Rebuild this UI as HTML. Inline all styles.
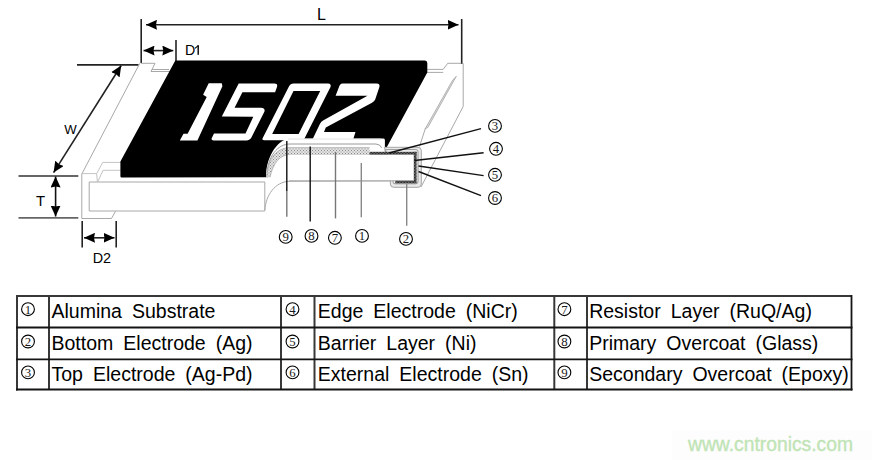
<!DOCTYPE html>
<html><head><meta charset="utf-8"><title>Chip resistor structure</title>
<style>
html,body{margin:0;padding:0;background:#fff;width:872px;height:460px;overflow:hidden}
svg{position:absolute;left:0;top:0;display:block}
text{font-family:"Liberation Sans",sans-serif}
.cn text{font-family:"Liberation Serif",serif;font-size:12.8px}
</style></head><body>
<svg width="872" height="460" viewBox="0 0 872 460">
<defs>
<marker id="ah" viewBox="0 0 11 10" refX="11" refY="5" markerWidth="11" markerHeight="10" markerUnits="userSpaceOnUse" orient="auto-start-reverse">
<path d="M0,0 L11,5 L0,10 L1,5 Z" fill="#000"/>
</marker>
<pattern id="hat" width="3" height="3" patternUnits="userSpaceOnUse">
<rect width="3" height="3" fill="#e4e4e4"/>
<rect width="1" height="1" fill="#8a8a8a"/>
<rect x="1.5" y="1.5" width="1" height="1" fill="#8a8a8a"/>
</pattern>
<pattern id="dhat" width="3" height="3" patternUnits="userSpaceOnUse">
<rect width="3" height="3" fill="#6a6a6a"/>
<rect width="1.5" height="1.5" fill="#2a2a2a"/>
<rect x="1.5" y="1.5" width="1.5" height="1.5" fill="#2a2a2a"/>
</pattern>
</defs>

<!-- ============ DIAGRAM ============ -->
<!-- L dimension -->
<g stroke="#222" stroke-width="1.6" fill="none">
<line x1="141.2" y1="19" x2="141.2" y2="63"/>
<line x1="461.7" y1="19" x2="461.7" y2="64"/>
<line x1="176" y1="40" x2="176" y2="61"/>
<line x1="146" y1="24.8" x2="458.5" y2="24.8" marker-start="url(#ah)" marker-end="url(#ah)"/>
<line x1="143.5" y1="50.6" x2="173.3" y2="50.6" marker-start="url(#ah)" marker-end="url(#ah)"/>
</g>
<text x="317" y="20" font-size="16" fill="#000">L</text>
<text x="185" y="55" font-size="14.2" fill="#000">D</text>
<rect x="197.5" y="45.2" width="1.4" height="9.6" fill="#000"/><line x1="198.2" y1="45.6" x2="195" y2="48.3" stroke="#000" stroke-width="1.1"/>

<!-- W dimension -->
<g stroke="#222" stroke-width="1.6" fill="none">
<line x1="77" y1="64.9" x2="138.6" y2="64.9"/>
<line x1="121.2" y1="65.5" x2="53.6" y2="172.6" marker-start="url(#ah)" marker-end="url(#ah)"/>
</g>
<text x="64.3" y="134" font-size="13.2" fill="#000">W</text>

<!-- T dimension -->
<g stroke="#666" stroke-width="1.8" fill="none">
<line x1="18.5" y1="176" x2="78.3" y2="176"/>
<line x1="18.5" y1="217.9" x2="78.3" y2="217.9"/>
</g>
<line x1="55.6" y1="176.5" x2="55.6" y2="216.5" stroke="#111" stroke-width="1.6" marker-start="url(#ah)" marker-end="url(#ah)"/>
<text x="36" y="206" font-size="14.8" fill="#000">T</text>

<!-- D2 dimension -->
<g stroke="#222" stroke-width="1.6" fill="none">
<line x1="82.2" y1="221" x2="82.2" y2="247.5"/>
<line x1="116.2" y1="221" x2="116.2" y2="247.5"/>
<line x1="84" y1="237.8" x2="114.5" y2="237.8" marker-start="url(#ah)" marker-end="url(#ah)"/>
</g>
<text x="92.7" y="263.3" font-size="14.4" fill="#000">D2</text>

<!-- chip outline thin gray lines -->
<g stroke="#a8a8a8" stroke-width="1" fill="none">
<!-- left end -->
<polyline points="81.8,218.5 81.8,173.6"/>
<line x1="82" y1="173.6" x2="139.8" y2="63.3"/>
<g stroke="#c4c4c4">
<polyline points="81.8,173.6 96.7,173.6 102.7,162.4 121,162.4"/>
<line x1="97.8" y1="181.7" x2="103" y2="170.3"/>
<line x1="103" y1="170.3" x2="121" y2="170.3"/>
<line x1="96.6" y1="173.6" x2="97.4" y2="181.5"/>
</g>
<polyline points="141,63.3 155,63.3 151,71.5 170,71.5"/>
<line x1="152" y1="69.5" x2="169" y2="69.5"/>
<polyline points="89.2,211 89.2,182 264.8,182"/>
<line x1="89.2" y1="211" x2="264.8" y2="211"/>
<polyline points="81.8,218.5 111.5,218.5 115.5,211.3"/>
<line x1="264.8" y1="182" x2="264.8" y2="211"/>
<!-- cutaway curve front -->
<path d="M264.8,210 C266,195 275,182 289,181.3"/>
<line x1="289" y1="181.3" x2="413.7" y2="180.8"/>
<!-- right end -->
<polyline points="427,69.4 443.2,69.4 447.7,63.3 461.4,63.3"/>
<line x1="427" y1="72.4" x2="443.2" y2="72.4"/>
<polyline points="463.2,63.3 463.2,106.5 421,187"/>
<line x1="425.5" y1="128" x2="419.5" y2="146.5"/>
</g>
<!-- hatched diagonal band on right end -->
<polygon points="456.3,76.3 452.6,80.3 425.2,128.8 427.8,127.5" fill="#dcdcdc" stroke="#a4a4a4" stroke-width="0.8"/>

<!-- black overcoat face -->
<path d="M175.3,60.5 L425,60.5 Q427.3,60.5 427.3,63 L427.3,72.4 L386.6,147.6 L384.9,147.6 L384.9,140 Q384.7,138.6 383.3,138.6 L290,138.6 C280,138.6 266,154 266,177.3 L121.6,177.4 Q120.4,177.4 120.4,176.2 L120.4,161.5 Z" fill="#000"/>

<!-- 1502 digits -->
<g fill="#fff">
<!-- 1 -->
<polygon points="208.7,83.3 221.8,83.3 222.4,86.3 197.4,140.5 179.8,140.5 183.5,133.8 187.6,133.8 206.7,96.9 203.1,94.8"/>
<!-- 5 -->
<path d="M238.7,83.5 L274.5,83.5 Q278.2,83.5 276.9,87.2 L275.1,92.2 L242.4,92.2 L234.6,107.8 L261,107.8 Q265.2,107.9 264.5,111.5 L251.9,136.5 Q250.3,140.3 247,140.4 L213.5,140.4 Q210.8,140.4 211.8,138 L214,133.5 L245.5,133.5 L253.3,116.7 L221.8,116.5 Z"/>
<!-- 0 -->
<path fill-rule="evenodd" d="M293.5,83.5 L328,83.5 Q331.5,83.5 330.5,87 L304.6,138.3 Q303.8,140.2 301.5,140.2 L264.2,140.2 Q261.8,140.2 262.6,138.3 L288.8,86.8 Q290.5,83.5 293.5,83.5 Z M293.5,91 L320.2,91 L298.6,134 L272.2,134 Z"/>
<!-- 2 -->
<path d="M342.5,83.5 L376.5,83.5 Q380.5,83.5 379.3,87.3 L375.2,99.5 Q374.3,101.6 372,102.8 L325.8,127.4 L324,132 L355.5,132 L353.3,139 L312.7,139 L320,123.8 Q321,121.6 323.5,120.3 L367.5,95.8 L335.6,95.8 L338.8,87.5 Q340,83.5 342.5,83.5 Z"/>
</g>

<!-- cross section layers -->
<line x1="288" y1="139" x2="381" y2="139" stroke="#dadada" stroke-width="0.8"/>
<g fill="none" stroke="#9a9a9a" stroke-width="1">
<path d="M266.8,177.3 C267,156 278,144 290,144 L376,144 Q380.6,144.4 381.6,147.8"/>
</g>
<!-- hatched resistor layer along top + curve -->
<path d="M267,177.3 C267.5,158 277,147.7 290,147.7 L369.5,147.7 L369.5,154.5 L290,154.5 C280,154.5 273,163 270,177.3 Z" fill="url(#hat)"/>
<g fill="none" stroke="#a8a8a8" stroke-width="0.8">
<path d="M267,177.3 C267.5,158 277,147.7 290,147.7 L369.5,147.7"/>
<path d="M270,177.3 C273,163 280,154.5 290,154.5 L413.5,154.5"/>
</g>
<!-- external electrode (outer) -->
<path d="M384.5,147.3 L418,147.3 Q421.3,147.3 421.3,150.5 L421.3,184 Q421.3,187.3 418,187.3 L393.7,187.3 Q390.4,187.3 390.4,184 L390.4,180.6 Z" fill="#e9e9e9" stroke="#a4a4a4" stroke-width="1"/>
<!-- barrier -->
<path d="M385.5,149.6 L415.8,149.6 Q418,149.6 418,151.8 L418,181.6 Q418,183.8 415.8,183.8 L395,183.8 Q393,183.8 393,181.8 L393,180.6 Z" fill="#f4f4f4" stroke="#8c8c8c" stroke-width="0.9"/>
<!-- substrate -->
<rect x="289.5" y="154.6" width="124" height="25.8" fill="#fff"/>
<line x1="289" y1="180.8" x2="413.7" y2="180.8" stroke="#a8a8a8" stroke-width="1"/>
<!-- electrodes -->
<rect x="369.5" y="151.8" width="47" height="2.8" fill="url(#dhat)"/>
<rect x="413.8" y="151.8" width="2.8" height="29.2" fill="url(#dhat)"/>
<rect x="395.3" y="180.8" width="21.3" height="2.5" fill="url(#dhat)"/>

<!-- pointer lines -->
<g stroke="#111" stroke-width="1.4">
<line x1="286.8" y1="141" x2="286.8" y2="191"/>
<line x1="310.2" y1="146.6" x2="310.2" y2="221.5"/>
<line x1="389" y1="153" x2="481" y2="128.6"/>
<line x1="414.4" y1="160.5" x2="483.6" y2="152.7"/>
<line x1="418.5" y1="166" x2="483.6" y2="175.6"/>
<line x1="418.5" y1="171.5" x2="481" y2="195.7"/>
</g>
<g stroke="#777" stroke-width="1.4">
<line x1="286.8" y1="191" x2="286.8" y2="216.7"/>
<line x1="335.5" y1="152" x2="335.5" y2="218.4"/>
</g>
<g stroke="#888" stroke-width="1.4">
<line x1="361.3" y1="163" x2="361.3" y2="217.2"/>
<line x1="406.7" y1="184" x2="406.7" y2="225.7"/>
</g>

<!-- diagram circled numbers -->
<g fill="none" stroke="#000" stroke-width="1.1">
<circle cx="495" cy="125.9" r="6.4"/>
<circle cx="496" cy="148.8" r="6.4"/>
<circle cx="495" cy="174.8" r="6.4"/>
<circle cx="495" cy="198" r="6.4"/>
<circle cx="285.7" cy="236.9" r="6.4"/>
<circle cx="311.5" cy="235.9" r="6.4"/>
<circle cx="334.9" cy="237.8" r="6.4"/>
<circle cx="362" cy="235.9" r="6.4"/>
<circle cx="406" cy="238.9" r="6.4"/>
</g>
<g class="cn" text-anchor="middle" fill="#1a1a1a">
<text x="495" y="130.25">3</text>
<text x="496" y="153.15">4</text>
<text x="495" y="179.15">5</text>
<text x="495" y="202.35">6</text>
<text x="285.7" y="241.25">9</text>
<text x="311.5" y="240.25">8</text>
<text x="334.9" y="242.15">7</text>
<text x="362" y="240.25">1</text>
<text x="406" y="243.25">2</text>
</g>

<!-- ============ TABLE ============ -->
<g stroke="#383838" stroke-width="2" fill="none">
<line x1="17" y1="296" x2="851.5" y2="296"/>
<line x1="17" y1="295" x2="17" y2="390.5"/>
<line x1="49" y1="296" x2="49" y2="389.5"/>
<line x1="281" y1="296" x2="281" y2="389.5"/>
<line x1="314.5" y1="296" x2="314.5" y2="389.5"/>
<line x1="554.3" y1="296" x2="554.3" y2="389.5"/>
<line x1="587" y1="296" x2="587" y2="389.5"/>
</g>
<g stroke="#141414" stroke-width="1.8" fill="none">
<line x1="16" y1="327.5" x2="852.5" y2="327.5"/>
<line x1="16" y1="359.3" x2="852.5" y2="359.3"/>
<line x1="16" y1="389.5" x2="852.5" y2="389.5"/>
<line x1="851.5" y1="295" x2="851.5" y2="390.4"/>
</g>
<g fill="none" stroke="#000" stroke-width="1.1">
<circle cx="28" cy="309.2" r="6.4"/>
<circle cx="28" cy="341.5" r="6.4"/>
<circle cx="28" cy="372.4" r="6.4"/>
<circle cx="292.5" cy="309.2" r="6.4"/>
<circle cx="292.5" cy="341.5" r="6.4"/>
<circle cx="292.5" cy="372.4" r="6.4"/>
<circle cx="564.4" cy="309.2" r="6.4"/>
<circle cx="564.4" cy="341.5" r="6.4"/>
<circle cx="564.4" cy="372.4" r="6.4"/>
</g>
<g class="cn" text-anchor="middle" fill="#1a1a1a">
<text x="28" y="313.55">1</text>
<text x="28" y="345.85">2</text>
<text x="28" y="376.75">3</text>
<text x="292.5" y="313.55">4</text>
<text x="292.5" y="345.85">5</text>
<text x="292.5" y="376.75">6</text>
<text x="564.4" y="313.55">7</text>
<text x="564.4" y="345.85">8</text>
<text x="564.4" y="376.75">9</text>
</g>
<g font-size="19.5" fill="#000" style="word-spacing:4.6px">
<text x="51.5" y="318.2">Alumina Substrate</text>
<text x="51.5" y="349.7">Bottom Electrode (Ag)</text>
<text x="51.5" y="381.2">Top Electrode (Ag-Pd)</text>
<text x="317.8" y="318.2">Edge Electrode (NiCr)</text>
<text x="317.8" y="349.7">Barrier Layer (Ni)</text>
<text x="317.8" y="381.2">External Electrode (Sn)</text>
<text x="589.2" y="318.2">Resistor Layer (RuQ/Ag)</text>
<text x="589.2" y="349.7">Primary Overcoat (Glass)</text>
<text x="589.2" y="381.2">Secondary Overcoat (Epoxy)</text>
</g>

<!-- watermark -->
<rect x="672" y="429.7" width="200" height="30.3" fill="#fdfdfd"/>
<text x="688" y="451" font-size="19.3" fill="#c0e4b5" stroke="#c0e4b5" stroke-width="0.35">www.cntronics.com</text>
</svg>
</body></html>
